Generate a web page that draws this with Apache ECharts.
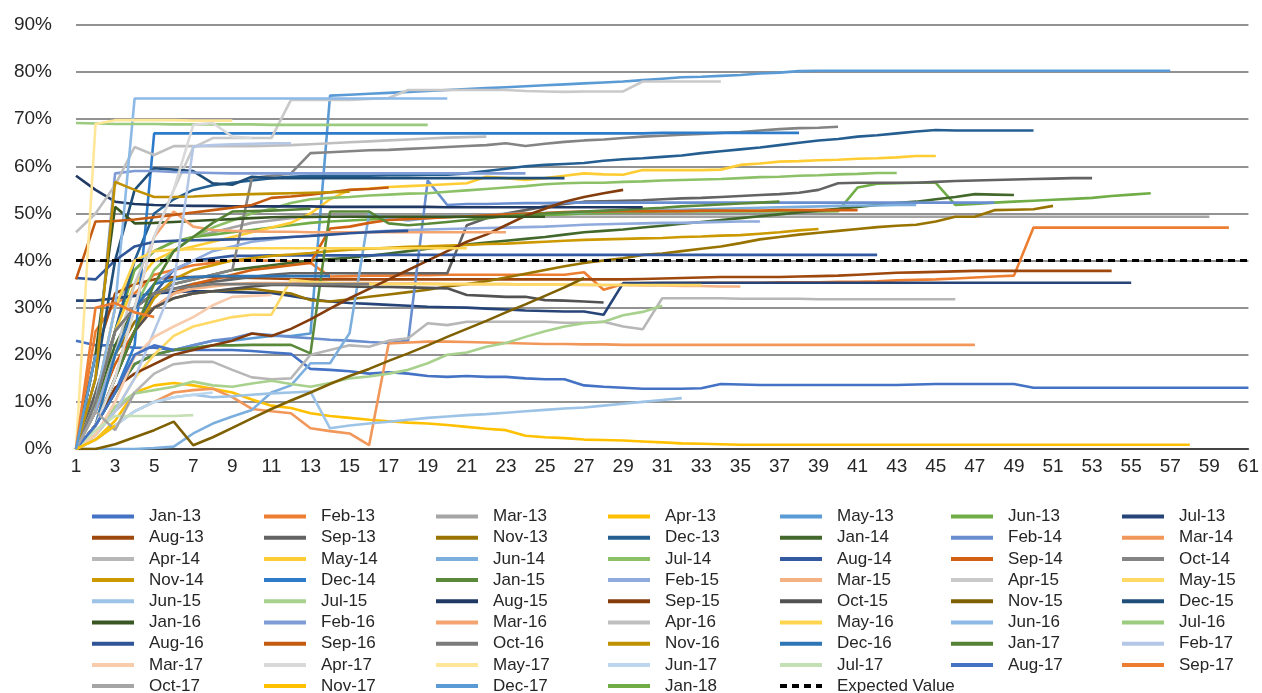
<!DOCTYPE html>
<html>
<head>
<meta charset="utf-8">
<title>Cohort chart</title>
<script src="https://cdn.jsdelivr.net/npm/echarts@6/dist/echarts.min.js"></script>
<style>
  *{margin:0;padding:0;}
  body{background:#fff;}
  #main{width:1262px;height:693px;}
</style>
</head>
<body>
<div id="main"></div>
<script>
// x categories (months since start)
var categories = ['1','2','3','4','5','6','7','8','9','10','11','12','13','14','15','16','17','18','19','20',
  '21','22','23','24','25','26','27','28','29','30','31','32','33','34','35','36','37','38','39','40',
  '41','42','43','44','45','46','47','48','49','50','51','52','53','54','55','56','57','58','59','60','61'];

var seriesNames = ['Jan-13','Feb-13','Mar-13','Apr-13','May-13','Jun-13','Jul-13','Aug-13','Sep-13','Nov-13','Dec-13',
  'Jan-14','Feb-14','Mar-14','Apr-14','May-14','Jun-14','Jul-14','Aug-14','Sep-14','Oct-14','Nov-14','Dec-14',
  'Jan-15','Feb-15','Mar-15','Apr-15','May-15','Jun-15','Jul-15','Aug-15','Sep-15','Oct-15','Nov-15','Dec-15',
  'Jan-16','Feb-16','Mar-16','Apr-16','May-16','Jun-16','Jul-16','Aug-16','Sep-16','Oct-16','Nov-16','Dec-16',
  'Jan-17','Feb-17','Mar-17','Apr-17','May-17','Jun-17','Jul-17','Aug-17','Sep-17','Oct-17','Nov-17','Dec-17',
  'Jan-18'];

// values in percent
var jan13 = [23,22,22,21.5,21.5,21,21,21,21,20.8, 20.5,20.2,17,16.8,16.5,16,16.3,16,15.5,15.3,
  15.5,15.3,15.3,15,14.8,14.8,13.5,13.2,13,12.8, 12.8,12.8,12.9,13.8,13.7,13.6,13.6,13.6,13.6,13.6,
  13.6,13.6,13.6,13.7,13.8,13.8,13.8,13.8,13.8,13, 13,13,13,13,13,13,13,13,13,13, 13];
var feb13 = [0,25,31,33,37,38,39,39.5,40,40, 40,39.8,39.5,36.6,36.7,36.8,36.8,36.9,36.9,37,
  37,37,37,37,37,37,37.5,33.8,35,35.2, 35.2,35.2,35.3,35.3,35.3,35.3,35.4,35.4,35.4,35.5,
  35.5,35.6,35.8,35.9,36,36.2,36.4,36.6,36.8,47, 47,47,47,47,47,47,47,47,47,47];
var mar13 = [0,10,30,38,42,44,45,46,47,48, 48.5,49,49.2,49.3,49.4,49.5,49.5,49.5,49.5,49.5,
  49.5,49.4,49.4,49.4,49.3,49.3,49.3,49.3,49.3,49.3, 49.3,49.3,49.3,49.3,49.3,49.3,49.3,49.3,49.3,49.3,
  49.3,49.3,49.3,49.3,49.3,49.3,49.3,49.3,49.3,49.3, 49.3,49.3,49.3,49.3,49.3,49.3,49.3,49.3,49.3];
var apr13 = [0,2,6,12,13.5,14,13.5,12.8,12,10.5, 9.2,8.7,7.6,7,6.6,6.2,5.9,5.6,5.4,5.1,
  4.7,4.3,4,2.8,2.5,2.3,2,1.9,1.8,1.6, 1.4,1.2,1.1,1,0.9,0.9,0.9,0.9,0.9,0.9,
  0.9,0.9,0.9,0.9,0.9,0.9,0.9,0.9,0.9,0.9, 0.9,0.9,0.9,0.9,0.9,0.9,0.9,0.9];
var may13 = [0,5,12,18,20,21,22,23,23,23.5, 24,24,24.5,75,75.2,75.4,75.6,75.8,76,76.2,
  76.4,76.6,76.8,77,77.2,77.4,77.6,77.8,78,78.3, 78.6,78.9,79,79.2,79.4,79.7,79.9,80.2,80.3,80.3,
  80.3,80.3,80.3,80.3,80.3,80.3,80.3,80.3,80.3,80.3, 80.3,80.3,80.3,80.3,80.3,80.3,80.3];
var jun13 = [0,8,25,38,42,44,45,45.5,46,46.5, 47,47.5,48,48.3,48.5,48.7,48.9,49,49.1,49.2,
  49.3,49.4,49.5,49.6,49.7,49.8,50,50.1,50.2,50.3, 50.4,50.4,50.4,50.4,50.4,50.4,50.4,50.4,50.4,50.5,
  55.5,56.3,56.4,56.5,56.5,51.8,52,52.3,52.5,52.7, 52.9,53.1,53.3,53.7,54,54.3];
var jul13 = [31.5,31.5,32,32.5,33,33.3,33.5,33.5,33.3,33.2, 33.1,32.5,31.8,31.3,31,30.8,30.6,30.4,30.2,30.1,
  30,29.8,29.6,29.4,29.3,29.2,29.2,28.5,35.2,35.2, 35.3,35.3,35.3,35.3,35.3,35.3,35.3,35.3,35.3,35.3,
  35.3,35.3,35.3,35.3,35.3,35.3,35.3,35.3,35.3,35.3, 35.3,35.3,35.3,35.3,35.3];
var aug13 = [0,20,33,35,36,36.5,36.5,36.5,36.4,36.3, 36.2,36.1,36,36,36,36,36,36,36,36,
  36,36,36,36,36,36,36,36,36,36.1, 36.2,36.3,36.4,36.5,36.5,36.5,36.5,36.6,36.7,36.8,
  37,37.2,37.4,37.5,37.6,37.7,37.8,37.8,37.8,37.8, 37.8,37.8,37.8,37.8];
var sep13 = [0,12,25,30,33,34,35,35.5,36,36.5, 37,37.3,37.3,37.3,37.3,37.3,37.3,37.3,37.3,37.3,
  47.5,49,50,50.7,51.5,52,52.5,52.6,52.7,52.8, 53,53.2,53.3,53.5,53.7,53.9,54.1,54.4,55,56.4,
  56.5,56.5,56.5,56.5,56.7,56.9,57,57.1,57.2,57.3, 57.4,57.5,57.5];
var nov13 = [0,8,20,27,30,32,33,33.5,33.8,34, 33.5,33,31.6,31.3,31.8,32.3,32.8,33.3,33.8,34.5,
  35,35.6,36.4,37.2,38,38.8,39.5,40,40.5,41.2, 41.5,42,42.5,43,43.7,44.5,45,45.5,45.9,46.3,
  46.7,47.1,47.4,47.6,48.3,49.3,49.3,50.7,50.8,50.9, 51.6];
var dec13 = [0,10,25,40,50,53,55,56,56.5,57, 57.5,57.8,58,58,58,58,58.1,58.1,58.2,58.2,
  58.5,59,59.5,60,60.3,60.5,60.7,61.2,61.5,61.7, 62,62.3,62.8,63.2,63.6,64,64.5,65,65.5,65.8,
  66.3,66.6,67,67.4,67.7,67.6,67.6,67.6,67.6,67.6];
var jan14 = [0,10,22,30,33,35,36,37,38,38.5, 39,39.5,40,40.3,40.6,41,41.5,42,42.5,43,
  43.4,43.8,44.2,44.6,45,45.5,46,46.3,46.6,47, 47.4,47.8,48.2,48.6,49,49.4,49.8,50.2,50.6,51,
  51.4,51.8,52.2,52.5,53,53.5,54.1,54,53.9];
var feb14 = [0,5,12,18,20,21,22,23,23.5,24.5, 24.2,23.8,23.5,23.2,23,22.7,22.5,23,57,51.8,
  52,52,52.1,52.2,52.2,52.3,52.3,52.3,52.3,52.3, 52.3,52.3,52.3,52.3,52.3,52.3,52.3,52.3,52.3,52.3,
  52.3,52.3,52.3,52.3,52.3,52.3,52.3,52.3];
var mar14 = [0,2,5,8,10,12,12.5,12.8,11,8.5, 8,7.6,4.4,3.8,3.3,0.8,22.4,22.6,22.8,22.8,
  22.7,22.6,22.5,22.4,22.3,22.3,22.2,22.2,22.1,22.1, 22.1,22.1,22.1,22.1,22.1,22.1,22.1,22.1,22.1,22.1,
  22.1,22.1,22.1,22.1,22.1,22.1,22.1];
var apr14 = [0,3,8,12,16,18,18.5,18.5,16.8,15.2, 14.8,15,20,21,22,21.7,23,23.5,26.7,26.3,
  27,27,27,27,27,26.8,26.8,27,26,25.4, 32,32,32,32,31.9,31.9,31.9,31.9,31.8,31.8,
  31.8,31.8,31.8,31.8,31.8,31.8];
var may14 = [0,10,25,35,40,42,43,44,45,46, 47,48,50,53,55,55.3,55.6,55.8,56,56.2,
  56.4,57.8,57.5,57.1,57.5,58,58.5,58.3,58.2,59.2, 59.2,59.2,59.2,59.3,60.3,60.6,61,61.1,61.3,61.4,
  61.6,61.7,61.9,62.2,62.2];
var jun14 = [0,0,0,0,0.2,0.5,3.3,5.4,6.9,8.3, 12,13.5,18.2,18.2,24.6,50,49,48.5,49,49.3,
  49.5,49.7,49.9,50,50.1,50.2,50.3,50.4,50.5,50.6, 50.7,50.8,50.9,51,51.1,51.2,51.3,51.4,51.5,51.6,
  51.7,51.7,51.8,51.8];
var jul14 = [0,8,20,30,38,42,45,47,48.5,50, 51,52.2,53,53.3,53.5,53.8,54,54.2,54.3,54.6,
  54.9,55.2,55.5,55.8,56.2,56.4,56.5,56.5,56.7,56.8, 57,57.1,57.2,57.3,57.5,57.7,57.8,58,58.1,58.3,
  58.4,58.6,58.6];
var aug14 = [0,5,15,25,33,38,40,40.5,41,41, 41.1,41.1,41.1,41.1,41.1,41.1,41.2,41.2,41.2,41.2,
  41.2,41.2,41.2,41.2,41.2,41.2,41.2,41.2,41.2,41.2, 41.2,41.2,41.2,41.2,41.2,41.2,41.2,41.2,41.2,41.2,
  41.2,41.2];
var sep14 = [0,8,18,25,30,33,35,36,37,38, 38.5,39,39.5,46.8,47.2,48,48.6,48.8,49,49.2,
  49.4,49.6,49.8,50,50.1,50.3,50.4,50.4,50.5,50.5, 50.5,50.5,50.6,50.6,50.6,50.6,50.7,50.7,50.7,50.7,
  50.7];
var oct14 = [0,10,25,30,33,35,36,37,38,57.5, 58,58.5,62.8,63,63.2,63.4,63.5,63.7,63.9,64.1,
  64.3,64.5,64.9,64.3,64.8,65.2,65.5,65.7,66,66.3, 66.5,66.7,66.9,67.1,67.3,67.6,67.9,68.1,68.2,68.4];
var nov14 = [0,5,15,25,32,36,38,39,40,40.5, 41,41.3,41.6,42,42.3,42.5,42.7,42.9,43,43.2,
  43.3,43.5,43.6,43.8,44,44.2,44.4,44.5,44.6,44.7, 44.8,45,45.1,45.3,45.4,45.7,46,46.4,46.7];
var dec14 = [0,5,12,22,67,67,67,67,67,67, 67,67,67,67,67,67,67,67,67,67,
  67,67,67,67,67,67,67,67,67,67, 67.1,67.1,67.1,67.1,67.1,67.1,67.1,67.1];
var jan15 = [0,5,12,18,20,21,21.5,22,22,22.1, 22.1,22.1,20.3,50.4,50.4,50.4,47.9,47.5,47.8,48.2,
  48.6,49,49.4,49.7,50,50.2,50.4,50.6,50.8,51, 51.2,51.5,51.7,51.9,52.1,52.3,52.5];
var feb15 = [0,8,20,30,35,38,40,42,43,44, 44.5,45,45.3,45.6,45.9,46.1,46.3,46.5,46.6,46.7,
  46.8,46.9,47,47.1,47.2,47.4,47.6,47.7,47.8,47.9, 48,48,48.1,48.2,48.3,48.3];
var mar15 = [0,5,15,25,30,33,34,34.5,35,35.2, 35.2,35.2,35.2,35.2,35.2,35.2,35.1,35.1,35.1,35,
  35,35,35,34.9,34.9,34.9,34.8,34.8,34.8,34.7, 34.7,34.6,34.6,34.5,34.5];
var apr15 = [0,5,20,35,45,55,64,66,66,66, 66,74.1,74.1,74.1,74.1,74.3,74.5,76.2,76.2,76.2,
  76.2,76.2,76.2,76,75.9,75.8,75.9,75.9,75.9,78, 78,78,78,78];
var may15 = [0,3,8,15,20,24,26,27,28,28.5, 28.5,35.9,35.5,35.2,35,35,35,35,35,35,
  35,35,35,34.9,34.9,34.9,34.9,34.8,34.8,34.8, 34.8,34.8,34.8];
var jun15 = [0,2,5,8,10,11,11.5,11,11.2,11.5, 11.8,12,12.2,4.4,5,5.4,5.8,6.2,6.6,6.9,
  7.2,7.4,7.7,8,8.3,8.6,8.8,9.2,9.6,10, 10.4,10.8];
var jul15 = [0,3,9,11.8,12.5,13.2,14.3,13.5,13.2,13.9, 14.5,13.8,13.2,14,15,15.4,16,16.8,18.2,20,
  20.5,21.7,22.5,23.8,25,26,26.7,27,28.4,29.1, 30.4];
var aug15 = [58,55,52.5,52,51.8,51.7,51.6,51.6,51.5,51.5, 51.5,51.5,51.5,51.4,51.4,51.4,51.4,51.4,51.4,51.3,
  51.3,51.3,51.3,51.3,51.3,51.3,51.3,51.3,51.3,51.3];
var sep15 = [0,5,13,16,18,20,21,22,23,24.5, 24,25.5,27.5,29.8,32,34,36,38,40,42,
  44,45.5,47.5,49.5,51,52.5,53.5,54.3,55];
var oct15 = [0,5,15,25,30,32,33,33.5,34,34.5, 34.8,34.8,34.7,34.6,34.5,34.4,34.4,34.3,34.2,34.1,
  32.7,32.5,32.3,32.3,31.6,31.5,31.3,31.1];
var nov15 = [0,0,1,2.5,4,5.8,0.8,2.5,4.5,6.5, 8.5,10.3,12,13.8,15.5,17,18.7,20.3,22,23.8,
  25.5,27.2,29,30.7,32.5,34.3,36.3];
var dec15 = [0,15,40,55,59.6,59.3,59,56.4,56.1,57.8, 57.5,57.5,57.5,57.5,57.5,57.5,57.5,57.5,57.5,57.5,
  57.5,57.5,57.5,57.5,57.5,57.5];
var jan16 = [0,20,51.4,47.9,48,48.2,48.4,48.6,48.8,49, 49.2,49.3,49.3,49.3,49.3,49.3,49.3,49.3,49.3,49.3,
  49.3,49.3,49.3,49.3,49.3];
var feb16 = [0,15,58.5,59,59,58.8,58.7,58.6,58.5,58.5, 58.5,58.5,58.5,58.5,58.5,58.5,58.5,58.5,58.5,58.5,
  58.5,58.5,58.5,58.5];
var mar16 = [0,5,15,30,45,50.4,47.2,46.5,46.3,46.2, 46.1,46.1,46,46,46,46,46,46,46,46, 46,46,46];
var apr16 = [46,50,56,64.1,62.4,64.3,64.3,64.3,64.3,64.3, 64.4,64.5,64.7,64.9,65.1,65.3,65.5,65.7,65.9,66.1,
  66.2,66.3];
var may16 = [0,10,30,40,42,42.3,42.4,42.5,42.6,42.6, 42.6,42.6,42.6,42.6,42.6,42.6,42.6,42.6,42.6,42.6, 42.6];
var jun16 = [0,10,30,74.4,74.4,74.4,74.4,74.4,74.4,74.4, 74.4,74.4,74.4,74.4,74.4,74.4,74.4,74.4,74.4,74.4];
var jul16 = [69.2,69.1,69,69,69,68.9,68.9,68.9,68.9,68.9, 68.8,68.8,68.8,68.8,68.8,68.8,68.8,68.8,68.8];
var aug16 = [36.3,36,40,43,44,44.2,44.3,44.4,44.5,44.6, 44.8,45,45.2,45.5,45.8,46,46.2,46.3];
var sep16 = [36,48.3,48.4,48.7,49.2,49.7,50.2,50.7,51.2,51.8, 53.3,53.6,54,54.5,55,55.2,55.5];
var oct16 = [0,10,25,30,33,34,34.5,35,35,35, 35,35,35,35,35,35];
var nov16 = [0,15,56.7,55,53.5,53.5,53.6,53.8,54,54.1, 54.2,54.3,54.4,54.5,54.6];
var dec16 = [0,5,20,30,35,36,36.5,36.7,36.7,36.7, 36.7,36.7,36.7,36.7];
var jan17 = [0,5,15,25,35,42,45,48,50.4,50.5, 50.6,50.8,51];
var feb17 = [0,3,8,15,25,35,64.2,64.5,64.7,64.8, 64.9,64.9];
var mar17 = [0,3,10,19.6,23.8,26,28,30.5,32.3,32.5, 32.7];
var apr17 = [0,5,15,30,45,55,68.8,69.2,66.3,66];
var may17 = [0,69,69.8,69.8,69.8,69.8,69.7,69.7,69.7];
var jun17 = [0,2,5,8,10,11,11.5,12];
var jul17 = [0,4,7,7,7,7,7.2];
var aug17 = [0,5,12,20,22,21];
var sep17 = [0,30,31,29,28];
var oct17 = [0,8,4,12];
var nov17 = [0,2,5];
var dec17 = [0,20];
var jan18 = [0];
var expectedValue = [40,40,40,40,40,40,40,40,40,40, 40,40,40,40,40,40,40,40,40,40,
  40,40,40,40,40,40,40,40,40,40, 40,40,40,40,40,40,40,40,40,40,
  40,40,40,40,40,40,40,40,40,40, 40,40,40,40,40,40,40,40,40,40, 40];

var seriesValues = [jan13,feb13,mar13,apr13,may13,jun13,jul13,aug13,sep13,nov13,dec13,
  jan14,feb14,mar14,apr14,may14,jun14,jul14,aug14,sep14,oct14,nov14,dec14,
  jan15,feb15,mar15,apr15,may15,jun15,jul15,aug15,sep15,oct15,nov15,dec15,
  jan16,feb16,mar16,apr16,may16,jun16,jul16,aug16,sep16,oct16,nov16,dec16,
  jan17,feb17,mar17,apr17,may17,jun17,jul17,aug17,sep17,oct17,nov17,dec17,jan18];

var seriesColors = ['#4472C4','#ED7D31','#A5A5A5','#FFC000','#5B9BD5','#70AD47','#264478',
  '#9E480E','#636363','#997300','#255E91','#43682B','#698ED0','#F1975A',
  '#B7B7B7','#FFCD33','#7CAFDD','#8CC168','#335AA1','#D26012','#848484',
  '#CC9A00','#2E7BC9','#5A8A39','#8FAADC','#F4B183','#C9C9C9','#FFD966',
  '#9DC3E6','#A9D18E','#203864','#843C0C','#525252','#7F6000','#1F4E79',
  '#385723','#7F9CD6','#F4A46E','#BFBFBF','#FFD54F','#8DB9E6','#9BCB7E',
  '#2F5597','#C55A11','#7B7B7B','#BF9000','#2E75B6','#548235','#B4C7E7',
  '#F8CBAD','#D9D9D9','#FFE699','#BDD7EE','#C5E0B4','#4472C4','#ED7D31',
  '#A5A5A5','#FFC000','#5B9BD5','#70AD47'];

var myChart = echarts.init(document.getElementById('main'));

var series = [];
for (var i = 0; i < seriesNames.length; i++) {
    series.push({
        name: seriesNames[i],
        type: 'line',
        symbol: 'none',
        data: seriesValues[i],
        color: seriesColors[i],
        lineStyle: {width: 2.6, color: seriesColors[i]},
        animation: false
    });
}
series.push({
    name: 'Expected Value',
    type: 'line',
    symbol: 'none',
    data: expectedValue,
    color: '#000',
    lineStyle: {width: 3, color: '#000', type: [7, 5]},
    z: 5,
    animation: false
});

// legend: 7 columns, filled row by row
var legendNames = seriesNames.concat(['Expected Value']);
var colX = [85, 257, 429, 601, 773, 944, 1115];
var legends = [];
for (var c = 0; c < 7; c++) {
    var items = [];
    for (var k = c; k < legendNames.length; k += 7) items.push(legendNames[k]);
    legends.push({
        orient: 'vertical',
        left: colX[c],
        top: 503,
        height: 210,
        itemWidth: 42,
        itemHeight: 16,
        itemGap: 4.2,
        selectedMode: false,
        itemStyle: {opacity: 0},
        lineStyle: {width: 4},
        textStyle: {fontSize: 17, color: '#262626', fontFamily: 'Liberation Sans', padding: [0, 0, 0, 10]},
        data: items
    });
}

var option = {
    animation: false,
    backgroundColor: '#fff',
    grid: {left: 76, right: 13, top: 25, bottom: 244},
    legend: legends,
    xAxis: {
        type: 'category',
        boundaryGap: false,
        data: categories,
        axisLine: {lineStyle: {color: '#2b2b2b', width: 1.5}},
        axisTick: {show: false},
        axisLabel: {interval: 1, color: '#262626', fontSize: 19, fontFamily: 'Liberation Sans', margin: 8},
        splitLine: {show: false}
    },
    yAxis: {
        type: 'value',
        min: 0,
        max: 90,
        interval: 10,
        axisLine: {show: false},
        axisTick: {show: false},
        axisLabel: {formatter: '{value}%', color: '#262626', fontSize: 19, fontFamily: 'Liberation Sans', margin: 24},
        splitLine: {lineStyle: {color: '#6e6e6e', width: 1.5}}
    },
    series: series
};
myChart.setOption(option);
</script>
</body>
</html>
